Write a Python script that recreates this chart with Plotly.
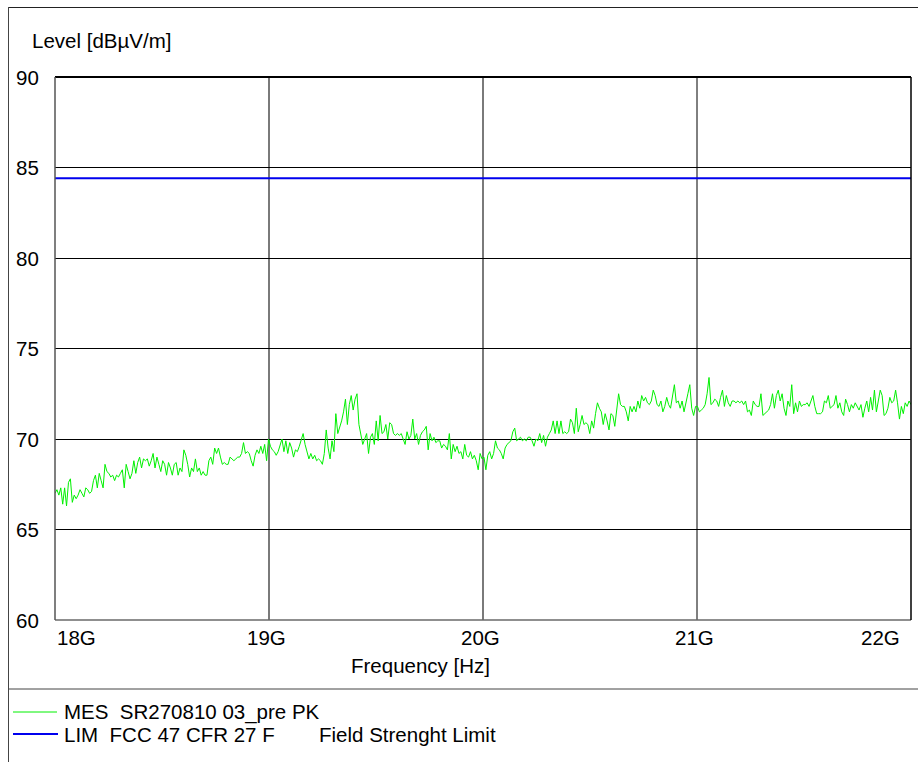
import numpy as np
import plotly.graph_objects as go

# Measured peak level (dBµV/m), sweep 18 GHz .. 22 GHz, split per segment
mes_seg1 = [67.0, 67.2, 66.9, 67.3, 66.4, 67.3, 66.3, 67.6, 67.8, 66.5, 66.9, 66.7, 66.9, 67.2, 67.0, 66.8,
            67.3, 67.2, 67.0, 67.1, 67.7, 68.0, 67.3, 68.1, 67.7, 67.3, 68.6, 68.2, 68.1, 67.9, 68.0, 67.7,
            68.0, 67.9, 68.1, 68.3, 67.3, 68.6, 68.2, 67.8, 68.1, 68.8, 68.1, 68.7, 69.0, 68.4, 68.9, 68.8,
            68.9, 68.5, 68.8, 69.2, 68.4, 69.0, 68.6, 68.2, 68.8, 68.6, 68.0, 68.7, 68.4, 68.0, 68.6, 68.7,
            68.0, 68.4, 68.2, 69.4, 69.1, 68.6, 67.9, 68.4, 68.2, 68.9, 68.2, 68.4, 68.0, 68.2, 68.0, 68.0,
            68.8, 69.0, 68.6, 69.5, 69.2, 69.5, 69.0, 68.6]
mes_seg2 = [68.7, 68.6, 68.6, 69.0, 68.9, 68.8, 68.9, 69.0, 69.0, 69.2, 69.8, 69.2, 69.3, 69.2, 68.8, 68.5,
            69.1, 69.4, 69.2, 69.6, 69.2, 69.7, 68.8, 70.0, 69.6, 69.4, 69.3, 69.1, 69.3, 69.7, 70.0, 69.3,
            69.9, 69.2, 69.8, 69.5, 69.0, 69.4, 69.3, 69.6, 69.9, 70.3, 69.7, 69.3, 68.9, 69.2, 68.9, 69.1,
            68.8, 68.9, 68.8, 68.6, 69.2, 70.5, 69.5, 68.9, 69.9, 69.3, 71.4, 70.3, 70.6, 71.0, 71.5, 72.2,
            70.8, 71.9, 72.4, 71.6, 72.2, 72.5, 70.8, 70.2, 69.7, 70.0, 70.3, 69.2, 70.1, 70.3, 69.7, 71.0,
            69.9, 71.3, 70.3, 70.4, 70.8, 70.0, 70.9, 70.8, 70.3, 70.2]
mes_seg3 = [70.3, 70.2, 70.3, 70.0, 69.7, 70.4, 70.0, 70.2, 71.1, 70.0, 70.3, 69.7, 70.2, 70.4, 70.5, 70.7,
            69.4, 70.3, 69.9, 70.1, 69.8, 69.9, 69.9, 69.5, 69.7, 69.6, 69.4, 70.3, 68.9, 69.7, 69.3, 69.6,
            69.2, 69.3, 68.9, 69.7, 69.1, 69.0, 69.3, 68.9, 69.1, 68.8, 68.3, 69.2, 68.9, 69.0, 68.3, 69.1,
            69.3, 68.9, 69.2, 69.9, 69.5, 69.4, 69.2, 68.9, 69.5, 69.7, 69.8, 69.9, 70.4, 70.6, 69.9, 70.0,
            70.1, 69.9, 70.0, 69.9, 70.1, 70.1, 69.9, 69.6, 70.0, 69.9, 70.3, 69.8, 70.2, 69.6, 70.1, 70.3,
            70.5, 71.0, 70.3, 71.0, 70.3, 71.0, 70.3, 70.4]
mes_seg4 = [70.3, 70.4, 71.1, 70.9, 70.3, 71.7, 70.4, 70.8, 71.3, 70.8, 70.9, 70.8, 70.3, 71.0, 70.6, 71.4,
            72.0, 71.7, 71.5, 70.8, 71.4, 71.0, 70.5, 71.4, 71.3, 70.7, 71.5, 72.5, 71.9, 71.8, 71.8, 71.5,
            71.0, 71.8, 71.5, 71.8, 71.5, 72.1, 71.7, 72.4, 72.1, 72.3, 72.0, 71.9, 72.1, 72.7, 72.4, 71.9,
            71.8, 72.1, 71.5, 71.8, 72.3, 71.9, 71.7, 72.3, 73.0, 72.0, 72.1, 71.7, 72.1, 71.5, 72.1, 72.5,
            73.0, 71.7, 71.3, 71.8, 71.8, 71.5, 71.6, 71.7, 71.9, 72.5, 73.4, 71.9, 72.0, 72.2, 72.1, 71.8,
            72.3, 72.7, 71.8, 72.4, 72.0, 71.8, 72.1, 72.1, 72.0]
mes_seg5 = [72.1, 72.0, 72.1, 71.9, 72.1, 71.5, 71.6, 71.3, 72.1, 71.9, 71.8, 71.8, 72.5, 71.3, 71.4, 71.5,
            71.6, 71.9, 72.5, 71.7, 72.4, 72.7, 72.1, 72.5, 71.7, 71.3, 72.1, 71.8, 73.0, 71.4, 72.0, 71.5,
            72.1, 71.8, 71.9, 71.9, 72.0, 71.8, 72.1, 72.4, 71.8, 71.4, 71.4, 71.4, 71.5, 72.1, 72.0, 72.4,
            71.7, 71.8, 71.9, 72.4, 71.7, 72.0, 71.5, 71.3, 72.2, 71.9, 71.5, 71.9, 71.7, 72.0, 71.8, 71.6,
            71.9, 71.2, 71.7, 72.1, 71.5, 72.3, 71.6, 72.7, 71.5, 72.1, 72.7, 72.4, 71.3, 71.4, 71.7, 72.3,
            72.0, 72.1, 72.7, 72.0, 71.1, 71.8, 71.4, 72.0, 71.8, 72.1, 71.9]

# Field strength limit (dBµV/m)
limit_level = 84.4

# Axes
f_start, f_stop = 18e9, 22e9
x_ticks = [18e9, 19e9, 20e9, 21e9, 22e9]
x_tick_labels = ["18G", "19G", "20G", "21G", "22G"]
y_ticks = [60, 65, 70, 75, 80, 85, 90]

# Legend entries
mes_name = "MES  SR270810 03_pre PK"
lim_name = "LIM  FCC 47 CFR 27 F"
lim_desc = "Field Strenght Limit"

level = mes_seg1 + mes_seg2 + mes_seg3 + mes_seg4 + mes_seg5
freq = np.linspace(f_start, f_stop, len(level))

W, H = 918, 762
L, R, T, B = 55, 7, 77, 142
PW, PH = W - L - R, H - T - B
FONT = "Liberation Sans, Arial, sans-serif"
GREEN = "#00F000"
BLUE = "#0000EE"


def px(p):
    return (p - L) / PW


def py(p):
    return (H - B - p) / PH


fig = go.Figure()
fig.add_trace(go.Scatter(x=freq, y=level, mode="lines",
                         line=dict(color=GREEN, width=1), showlegend=False, hoverinfo="skip"))
fig.add_trace(go.Scatter(x=[f_start, f_stop], y=[limit_level, limit_level], mode="lines",
                         line=dict(color=BLUE, width=2), showlegend=False, hoverinfo="skip"))

shapes = []
# vertical grid lines at interior frequency ticks
grid_style = {19e9: ("#7a7a7a", 2), 20e9: ("#7a7a7a", 2), 21e9: ("#000000", 1)}
for xv in x_ticks[1:-1]:
    c, w = grid_style[xv]
    shapes.append(dict(type="line", xref="x", yref="paper", x0=xv, x1=xv, y0=0, y1=1,
                       line=dict(color=c, width=w), layer="below"))
# plot frame
shapes.append(dict(type="line", xref="paper", yref="paper", x0=0, x1=1, y0=1, y1=1,
                   line=dict(color="#000", width=2)))
shapes.append(dict(type="line", xref="paper", yref="paper", x0=0, x1=1, y0=0, y1=0,
                   line=dict(color="#6a6a6a", width=1.5)))
shapes.append(dict(type="line", xref="paper", yref="paper", x0=0, x1=0, y0=0, y1=1,
                   line=dict(color="#555", width=1.5)))
shapes.append(dict(type="line", xref="paper", yref="paper", x0=1, x1=1, y0=0, y1=1,
                   line=dict(color="#000", width=1.5)))
# outer frame and legend separator
shapes.append(dict(type="line", xref="paper", yref="paper", x0=px(8), x1=px(918), y0=py(7.5), y1=py(7.5),
                   line=dict(color="#222", width=1)))
shapes.append(dict(type="line", xref="paper", yref="paper", x0=px(8.5), x1=px(8.5), y0=py(7), y1=py(762),
                   line=dict(color="#444", width=1)))
shapes.append(dict(type="line", xref="paper", yref="paper", x0=px(8), x1=px(918), y0=py(689), y1=py(689),
                   line=dict(color="#444", width=1)))
# legend line samples
shapes.append(dict(type="line", xref="paper", yref="paper", x0=px(13), x1=px(57), y0=py(712), y1=py(712),
                   line=dict(color=GREEN, width=1)))
shapes.append(dict(type="line", xref="paper", yref="paper", x0=px(13), x1=px(58), y0=py(734), y1=py(734),
                   line=dict(color=BLUE, width=2)))

ann = []
txt = dict(family=FONT, size=20.5, color="#000")
for yv in y_ticks:
    ann.append(dict(x=0, y=yv, xref="paper", yref="y", text=str(yv), showarrow=False,
                    xanchor="right", yanchor="middle", xshift=-14, font=txt))
for i, (xv, lab) in enumerate(zip(x_ticks, x_tick_labels)):
    if i == 0:
        anchor, shift = "left", 0
    elif i == len(x_ticks) - 1:
        anchor, shift = "right", -9
    else:
        anchor, shift = "center", -3
    ann.append(dict(x=xv, y=py(637), xref="x", yref="paper", text=lab, showarrow=False,
                    xanchor=anchor, yanchor="middle", xshift=shift, font=txt))
ann.append(dict(x=px(420), y=py(665), xref="paper", yref="paper", text="Frequency [Hz]",
                showarrow=False, xanchor="center", yanchor="middle", font=txt))
ann.append(dict(x=px(30), y=py(40), xref="paper", yref="paper", text="Level [dBµV/m]",
                showarrow=False, xanchor="left", yanchor="middle", font=txt))
ann.append(dict(x=px(62), y=py(712), xref="paper", yref="paper", text=mes_name,
                showarrow=False, xanchor="left", yanchor="middle", font=txt))
ann.append(dict(x=px(62), y=py(734), xref="paper", yref="paper", text=lim_name,
                showarrow=False, xanchor="left", yanchor="middle", font=txt))
ann.append(dict(x=px(317), y=py(734), xref="paper", yref="paper", text=lim_desc,
                showarrow=False, xanchor="left", yanchor="middle", font=txt))

fig.update_layout(
    width=W, height=H,
    margin=dict(l=L, r=R, t=T, b=B, pad=0),
    paper_bgcolor="white", plot_bgcolor="white",
    xaxis=dict(range=[f_start, f_stop], showgrid=False, zeroline=False, showline=False,
               showticklabels=False, ticks=""),
    yaxis=dict(range=[60, 90], tickvals=y_ticks[1:-1], showgrid=True, gridcolor="#000", gridwidth=1,
               zeroline=False, showline=False, showticklabels=False, ticks=""),
    shapes=shapes, annotations=ann, showlegend=False,
)

fig.write_html("out.html", config={"displayModeBar": False})
